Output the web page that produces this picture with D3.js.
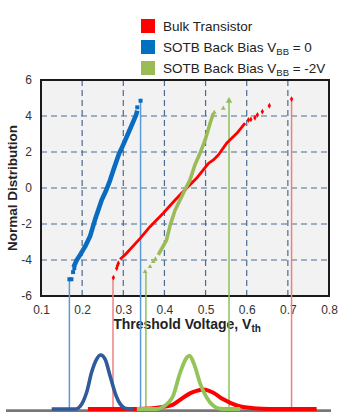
<!DOCTYPE html>
<html><head><meta charset="utf-8">
<script src="https://cdn.jsdelivr.net/npm/d3@7"></script>
<style>body{margin:0;background:#fff}svg{display:block;font-family:"Liberation Sans",Arial,sans-serif}</style>
</head><body><svg id="c" width="350" height="418"></svg>
<script>
// ---- data ----
const xTicks = [0.1,0.2,0.3,0.4,0.5,0.6,0.7,0.8];
const yTicks = [-6,-4,-2,0,2,4,6];
const legendLabels = ["Bulk Transistor","SOTB Back Bias V","SOTB Back Bias V"];
const legendSubs = ["","BB","BB"];
const legendTails = [""," = 0"," = -2V"];
// normal-probability plot: dense core [Vth, z] and sparse tail points
const blueCore = [[0.179,-4.4],[0.187,-4.0],[0.195,-3.72],[0.207,-3.26],[0.219,-2.7],[0.231,-1.78],[0.2475,-0.67],[0.259,-0.1],[0.268,0.44],[0.276,1.0],[0.290,1.93],[0.296,2.2],[0.312,3.04],[0.331,4.05],[0.334,4.3]];
const blueTail = [[0.169,-5.07],[0.174,-5.07],[0.178,-4.67],[0.181,-4.45],[0.334,4.48],[0.342,4.85]];
const redCore = [[0.292,-3.96],[0.304,-3.72],[0.341,-2.8],[0.365,-2.15],[0.397,-1.4],[0.426,-0.67],[0.45,-0.1],[0.478,0.54],[0.507,1.37],[0.519,1.56],[0.531,1.83],[0.551,2.48],[0.576,3.04],[0.596,3.6]];
const redTail = [[0.276,-4.98],[0.284,-4.46],[0.286,-4.3],[0.288,-4.18],[0.604,3.78],[0.610,3.81],[0.620,3.9],[0.626,4.06],[0.638,4.24],[0.655,4.57],[0.709,4.94]];
const greenCore = [[0.385,-3.72],[0.405,-2.89],[0.414,-2.06],[0.426,-1.22],[0.438,-0.67],[0.45,-0.1],[0.462,0.44],[0.474,1.28],[0.486,1.9],[0.499,2.67],[0.511,3.6],[0.519,4.15]];
const greenTail = [[0.353,-4.65],[0.365,-4.37],[0.373,-4.09],[0.378,-3.95],[0.521,4.2],[0.543,4.43]];
// min / max markers dropped to the distribution baseline [Vth, z]
const blueRange = [[0.169,-5.07],[0.342,4.85]];
const redRange = [[0.275,-4.98],[0.709,4.94]];
const greenRange = [[0.355,-4.65],[0.557,4.9]];
// distribution sketches below [Vth, relative height]
const blueDist = [[0.126,0],[0.185,0],[0.195,0.05],[0.203,0.15],[0.211,0.31],[0.223,0.68],[0.235,0.92],[0.245,1.0],[0.256,0.92],[0.268,0.61],[0.280,0.30],[0.288,0.15],[0.296,0.06],[0.306,0.01],[0.324,0]];
const greenDist = [[0.333,0],[0.38,0],[0.397,0.04],[0.410,0.12],[0.421,0.24],[0.438,0.67],[0.454,0.95],[0.460,0.99],[0.474,0.79],[0.486,0.49],[0.503,0.21],[0.519,0.06],[0.531,0.01],[0.543,0],[0.584,0]];
const redDist = [[0.214,0],[0.30,0],[0.365,0.01],[0.397,0.04],[0.418,0.07],[0.440,0.18],[0.462,0.29],[0.480,0.34],[0.494,0.36],[0.507,0.34],[0.519,0.30],[0.543,0.18],[0.576,0.065],[0.616,0.015],[0.657,0],[0.770,0]];

const colors = {red:"#ff0000", blue:"#0a6cc0", green:"#9bbb59"};
const legendColors = ["#ff0000","#0070c0","#9bbb59"];

// ---- drawing ----
const svg = d3.select("#c");
const x = d3.scaleLinear().domain([0.1,0.8]).range([41,329]);
const y = d3.scaleLinear().domain([-6,6]).range([296,80]);
const yb = d3.scaleLinear().domain([0,1]).range([409,355]);

// legend
const lg = svg.append("g");
legendLabels.forEach((t,i)=>{
  const yy = 19 + i*21;
  lg.append("rect").attr("x",141).attr("y",yy).attr("width",14).attr("height",14).attr("fill",legendColors[i]);
  const tx = lg.append("text").attr("x",163).attr("y",yy+12).attr("font-size",13.5).attr("fill","#222");
  tx.append("tspan").text(t);
  if (legendSubs[i]) {
    tx.append("tspan").attr("font-size",9.5).attr("dy",3).text(legendSubs[i]);
    tx.append("tspan").attr("dy",-3).text(legendTails[i]);
  }
});

// plot background
svg.append("rect").attr("x",41).attr("y",80).attr("width",288).attr("height",216).attr("fill","#f2f2f2");

// grid
const grid = svg.append("g").attr("stroke","#4a6a94").attr("stroke-width",1.2).attr("stroke-dasharray","6,4");
grid.selectAll(".gx").data(xTicks.slice(1,-1)).join("line")
  .attr("x1",d=>x(d)).attr("x2",d=>x(d)).attr("y1",80).attr("y2",296);
grid.selectAll(".gy").data(yTicks.slice(1,-1)).join("line")
  .attr("y1",d=>y(d)).attr("y2",d=>y(d)).attr("x1",41).attr("x2",329);

// axes using d3 axis
const xAxis = d3.axisBottom(x).tickValues(xTicks).tickSize(0).tickPadding(9).tickFormat(d=>d.toFixed(1));
const gx = svg.append("g").attr("transform","translate(0,296)").call(xAxis);
gx.select(".domain").remove();
gx.selectAll("text").attr("font-size",12).attr("fill","#333").attr("font-family","Liberation Sans, Arial, sans-serif");
const yAxis = d3.axisLeft(y).tickValues(yTicks).tickSize(0).tickPadding(9).tickFormat(d=>String(d));
const gy = svg.append("g").attr("transform","translate(41,0)").call(yAxis);
gy.select(".domain").remove();
gy.selectAll("text").attr("font-size",12).attr("fill","#333").attr("font-family","Liberation Sans, Arial, sans-serif");

// border
svg.append("rect").attr("x",41).attr("y",80).attr("width",288).attr("height",216).attr("fill","none").attr("stroke","#1a1a1a").attr("stroke-width",2);

// axis titles
svg.append("text").attr("transform","translate(17,188) rotate(-90)").attr("text-anchor","middle")
  .attr("font-size",13.5).attr("font-weight","bold").attr("fill","#222").text("Normal Distribution");
const xt = svg.append("text").attr("x",187).attr("y",329).attr("text-anchor","middle")
  .attr("font-size",14).attr("font-weight","bold").attr("fill","#222");
xt.append("tspan").text("Threshold Voltage, V");
xt.append("tspan").attr("font-size",10).attr("dy",3).text("th");

// bottom baseline
svg.append("line").attr("x1",6).attr("x2",331).attr("y1",410.7).attr("y2",410.7).attr("stroke","#777").attr("stroke-width",2.8);

// range lines
const rng = [[blueRange,"#5b9bd5"],[redRange,"#f08080"],[greenRange,"#8cc060"]];
rng.forEach(([arr,c])=>{
  svg.selectAll(null).data(arr).join("line")
    .attr("x1",d=>x(d[0])).attr("x2",d=>x(d[0])).attr("y1",d=>y(d[1])).attr("y2",409)
    .attr("stroke",c).attr("stroke-width",1.5);
});
// green arrow tip
svg.append("path").attr("d",d3.symbol(d3.symbolTriangle,18)()).attr("fill","#8cc060")
  .attr("transform",`translate(${x(greenRange[1][0])},${y(greenRange[1][1])+1})`);

// distribution curves
const dl = d3.line().x(d=>x(d[0])).y(d=>yb(d[1])).curve(d3.curveMonotoneX);
svg.append("path").attr("d",dl(redDist)).attr("fill","none").attr("stroke","#ff0000").attr("stroke-width",4);
svg.append("path").attr("d",dl(greenDist)).attr("fill","none").attr("stroke","#92c45a").attr("stroke-width",3.8);
svg.append("path").attr("d",dl(blueDist)).attr("fill","none").attr("stroke","#2f5b9b").attr("stroke-width",3.6);

// probability plot series
const pl = d3.line().x(d=>x(d[0])).y(d=>y(d[1])).curve(d3.curveLinear);
function series(core, tail, color, w, shape, size){
  svg.append("path").attr("d",pl(core)).attr("fill","none").attr("stroke",color).attr("stroke-width",w).attr("stroke-linejoin","round");
  svg.selectAll(null).data(tail).join("path")
    .attr("d",d3.symbol(shape,size)()).attr("fill",color)
    .attr("transform",d=>`translate(${x(d[0])},${y(d[1])})`);
}
series(redCore, redTail, colors.red, 2.8, d3.symbolDiamond, 10);
series(greenCore, greenTail, colors.green, 3.6, d3.symbolTriangle, 10);
series(blueCore, blueTail, colors.blue, 4.6, d3.symbolSquare, 16);
</script></body></html>
